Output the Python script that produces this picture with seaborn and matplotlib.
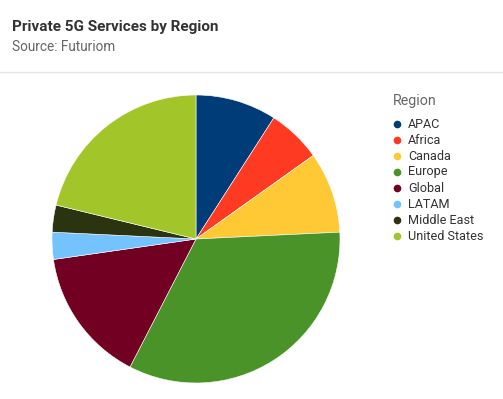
import matplotlib.pyplot as plt
from matplotlib.lines import Line2D
import seaborn as sns

# data
regions = ['APAC', 'Africa', 'Canada', 'Europe', 'Global', 'LATAM', 'Middle East', 'United States']
counts = [3, 2, 3, 11, 5, 1, 1, 7]
colors = ['#003c78', '#ff3a22', '#ffc936', '#4a9328', '#720022', '#74c3fe', '#2b3410', '#a2c629']

sns.set_theme(style='white')
plt.rcParams['font.family'] = ['Roboto', 'DejaVu Sans']
pal = sns.color_palette(colors)

W, H = 503, 399
fig = plt.figure(figsize=(W / 100, H / 100), dpi=100)

# pie axes: centre (196, 239), radius 144 px
cx, cy, r = 196, 239, 144
ax = fig.add_axes([(cx - r) / W, (H - cy - r) / H, 2 * r / W, 2 * r / H])
ax.pie(counts, colors=pal, startangle=90, counterclock=False,
       wedgeprops=dict(linewidth=0.4, edgecolor='white'))
ax.set_aspect('equal')
ax.set_xlim(-1, 1)
ax.set_ylim(-1, 1)
ax.axis('off')

# header
fig.text(12 / W, 1 - 27 / H, 'Private 5G Services by Region', fontsize=11,
         fontweight='bold', color='#333333', va='center', ha='left')
fig.text(12 / W, 1 - 47 / H, 'Source: Futuriom', fontsize=9.8,
         color='#666666', va='center', ha='left')
fig.add_artist(Line2D([0, 1], [1 - 72 / H, 1 - 72 / H], transform=fig.transFigure,
                      color='#e6e6e6', linewidth=1))

# legend
fig.text(393 / W, 1 - 101 / H, 'Region', fontsize=10.3, color='#666666',
         va='center', ha='left')
for i, (lab, c) in enumerate(zip(regions, pal)):
    y = 1 - (124 + i * 16) / H
    fig.add_artist(Line2D([397 / W], [y], transform=fig.transFigure, marker='o',
                          markersize=4.5, color=c, linestyle=''))
    fig.text(408 / W, y, lab, fontsize=9.1, color='#333333', va='center', ha='left')

fig.savefig('out.png', dpi=100)
